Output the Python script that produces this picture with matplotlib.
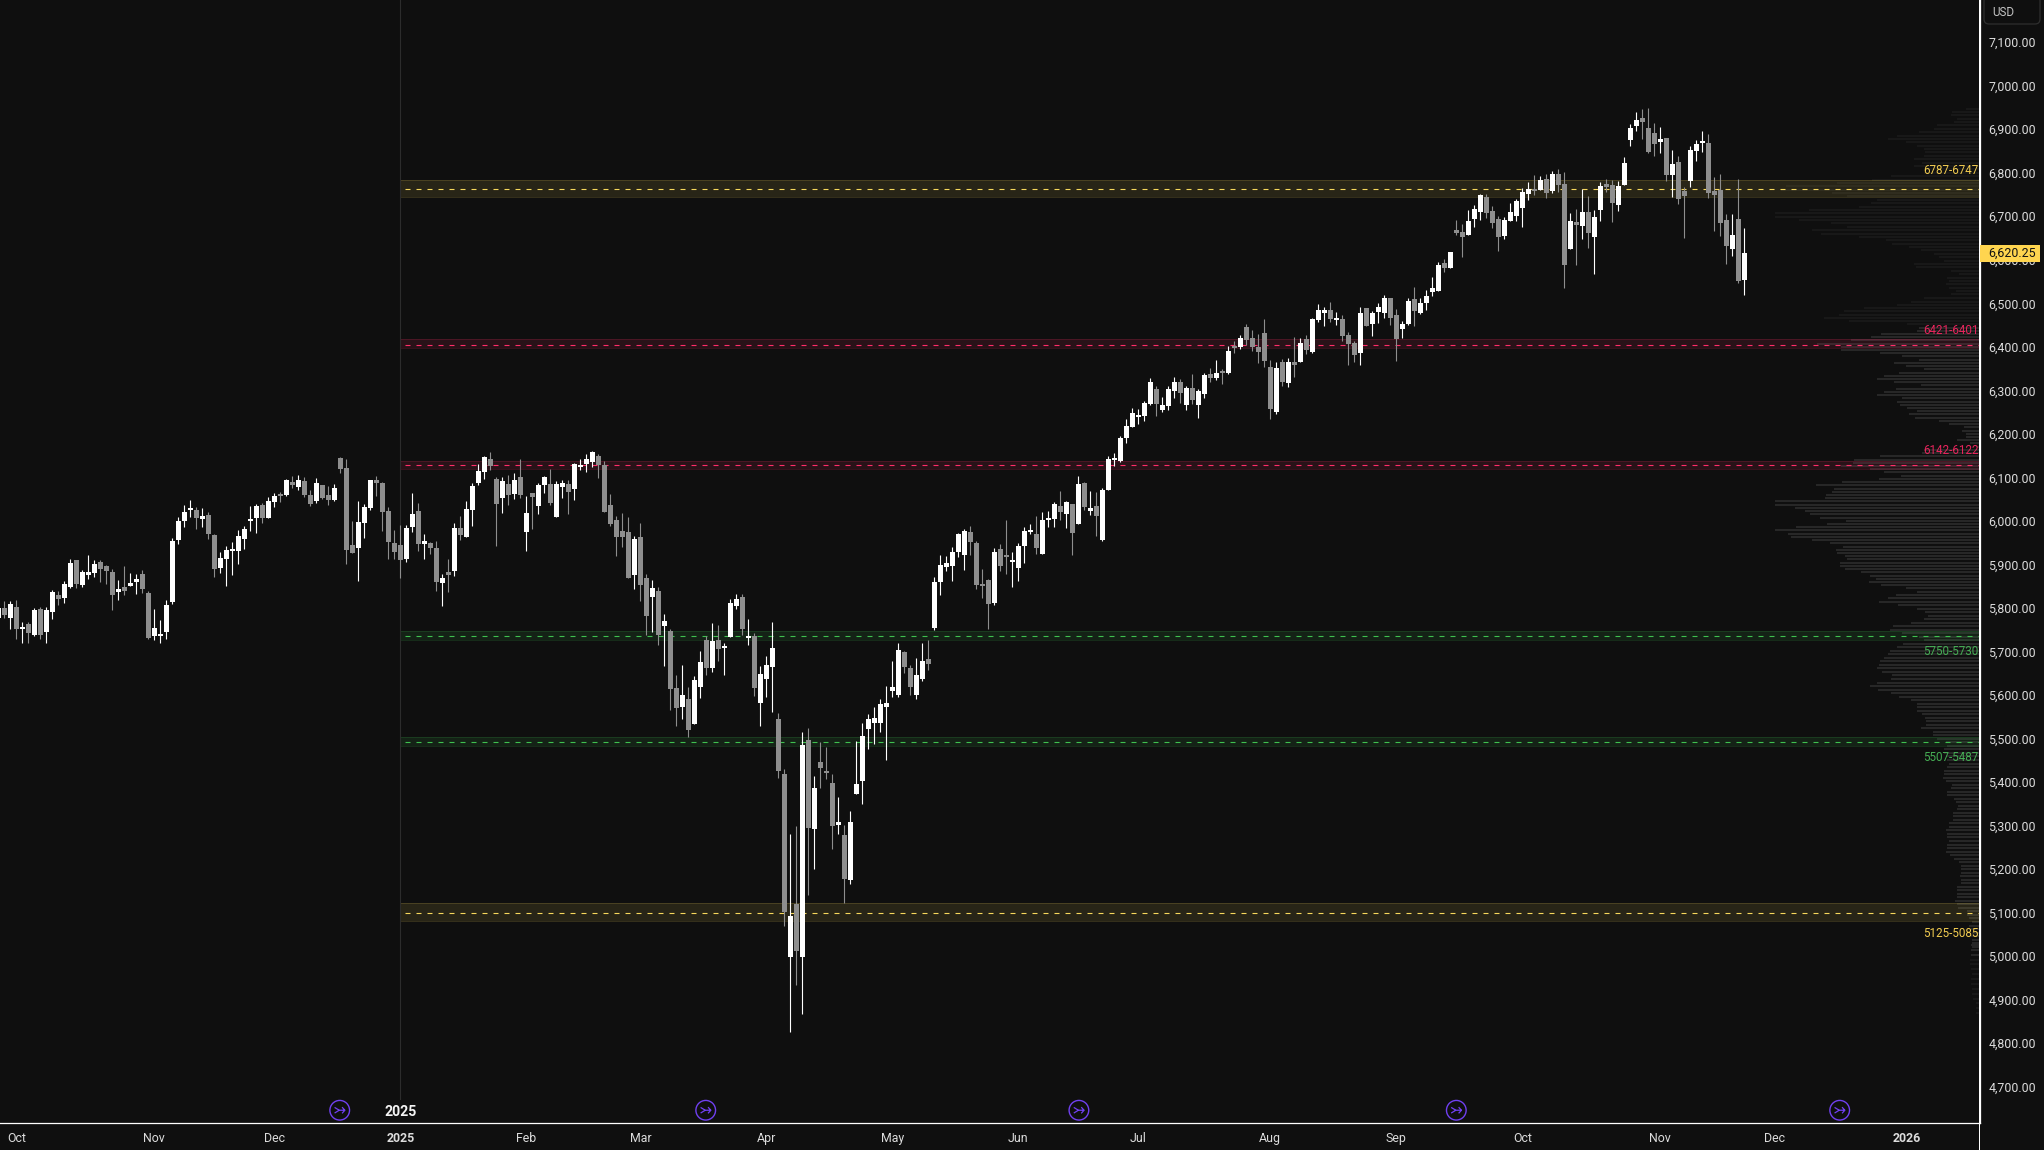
import matplotlib
matplotlib.use("Agg")
import matplotlib.pyplot as plt
import numpy as np
from matplotlib.patches import FancyBboxPatch, Rectangle
from matplotlib.path import Path
from matplotlib.transforms import IdentityTransform

opens = [5780,5803,5780,5806,5755,5766,5741,5801,5748,5794,5833,5826,5852,5914,5856,5879,5884,5909,5900,5886,
         5840,5852,5854,5863,5881,5838,5739,5739,5748,5817,5960,6003,6028,6028,6008,6017,5971,5895,5916,5934,
         5934,5962,6003,6010,6040,6010,6047,6063,6063,6093,6081,6095,6063,6049,6086,6063,6051,6148,6125,5948,
         5941,5999,6033,6097,6090,6026,5953,5948,5916,5989,6026,5950,5953,5941,5861,5886,5888,5987,5966,6028,
         6090,6116,6146,6100,6056,6088,6065,6104,5978,6068,6038,6086,6088,6012,6081,6088,6077,6127,6134,6139,
         6153,6132,6040,6005,5980,5978,5879,5966,5872,5829,5842,5762,5750,5619,5576,5594,5537,5622,5730,5665,
         5730,5711,5737,5808,5829,5734,5739,5585,5640,5668,5548,5422,5001,5123,5001,5500,5295,5449,5429,5401,
         5305,5282,5178,5376,5406,5525,5539,5539,5576,5612,5603,5702,5665,5603,5640,5686,5757,5863,5897,5900,
         5932,5925,5978,5953,5856,5868,5815,5939,5923,5909,5895,5946,5978,5973,5927,6005,6008,6038,6019,6042,
         5996,6090,6026,6038,5960,6074,6143,6141,6194,6219,6242,6244,6272,6306,6258,6267,6302,6323,6270,6309,
         6270,6295,6341,6332,6346,6343,6403,6403,6449,6424,6403,6435,6357,6254,6369,6320,6369,6369,6421,6392,
         6465,6481,6488,6465,6467,6431,6412,6389,6493,6456,6483,6481,6516,6477,6444,6456,6513,6481,6504,6529,
         6532,6596,6585,6672,6667,6660,6697,6713,6748,6716,6697,6658,6693,6704,6722,6755,6764,6764,6789,6761,
         6801,6778,6628,6690,6681,6713,6656,6718,6778,6775,6729,6775,6879,6911,6929,6906,6895,6874,6883,6798,
         6828,6761,6784,6853,6872,6872,6761,6764,6695,6628,6697,6557]
highs = [5803,5819,5819,5822,5771,5771,5803,5806,5806,5845,5842,5865,5916,5914,5891,5925,5914,5914,5902,5893,
         5868,5900,5884,5881,5891,5842,5801,5776,5822,5964,6012,6040,6051,6035,6033,6024,5973,5932,5946,5955,
         5982,5992,6038,6042,6045,6058,6068,6070,6100,6107,6109,6104,6074,6102,6086,6084,6088,6150,6146,6003,
         6049,6042,6097,6107,6093,6035,5982,5994,5994,6068,6045,5973,5955,5957,5881,5916,5999,6015,6049,6090,
         6134,6153,6162,6104,6104,6109,6113,6146,6061,6068,6090,6107,6123,6095,6097,6097,6136,6146,6157,6164,
         6157,6141,6065,6015,6022,6012,5969,5999,5881,5868,5851,5789,5755,5649,5672,5622,5647,5704,5739,5769,
         5764,5723,5824,5835,5835,5778,5746,5670,5693,5771,5562,5433,5284,5302,5518,5527,5417,5495,5484,5422,
         5369,5305,5337,5498,5539,5560,5576,5594,5624,5681,5723,5704,5672,5688,5722,5730,5874,5925,5923,5943,
         5976,5985,5992,5957,5893,5870,5941,5950,6005,5932,5953,5989,5996,6015,6024,6026,6047,6072,6049,6042,
         6107,6093,6072,6070,6079,6153,6159,6199,6238,6263,6261,6279,6332,6313,6288,6313,6334,6329,6313,6341,
         6306,6343,6355,6373,6352,6405,6417,6431,6456,6442,6433,6467,6373,6369,6375,6378,6426,6424,6431,6470,
         6502,6495,6506,6483,6477,6437,6417,6495,6493,6486,6504,6523,6516,6490,6463,6516,6541,6516,6534,6564,
         6598,6605,6621,6695,6686,6718,6729,6755,6755,6727,6704,6702,6734,6743,6768,6782,6798,6796,6801,6807,
         6812,6805,6711,6720,6766,6750,6718,6782,6789,6787,6784,6840,6915,6943,6950,6952,6918,6909,6883,6856,
         6842,6771,6865,6879,6899,6892,6794,6801,6709,6709,6789,6676]
lows = [5780,5780,5755,5732,5723,5723,5739,5732,5723,5778,5810,5815,5849,5849,5852,5870,5874,5863,5858,5799,
        5822,5833,5854,5835,5838,5732,5730,5723,5732,5812,5950,5989,6012,5985,5989,5962,5874,5884,5854,5879,
        5904,5939,5980,5976,5999,6010,6035,6047,6061,6079,6074,6058,6038,6045,6054,6040,6049,6113,5904,5930,
        5865,5964,6028,6061,5980,5916,5916,5872,5909,5978,5934,5916,5927,5842,5808,5840,5877,5960,5966,5992,
        6086,6100,6120,5946,6022,6040,6054,6056,5934,5985,6019,6068,6040,6012,6056,6019,6051,6120,6116,6127,
        6102,6024,5992,5923,5943,5872,5847,5819,5741,5748,5718,5670,5569,5532,5548,5507,5537,5596,5649,5656,
        5681,5649,5737,5801,5741,5718,5601,5532,5599,5564,5413,5072,4829,4937,4870,5144,5203,5390,5410,5249,
        5284,5125,5169,5376,5353,5479,5491,5518,5454,5599,5599,5654,5603,5594,5635,5661,5753,5833,5888,5865,
        5920,5891,5925,5847,5826,5755,5810,5888,5881,5851,5865,5907,5973,5927,5927,5989,5989,6005,5987,5925,
        5996,6028,6017,5969,5957,6074,6130,6139,6182,6219,6226,6233,6270,6244,6254,6258,6286,6274,6258,6272,
        6240,6286,6323,6327,6318,6341,6389,6398,6408,6394,6366,6357,6238,6249,6313,6311,6334,6369,6387,6389,
        6460,6451,6460,6454,6417,6362,6369,6362,6451,6428,6458,6470,6454,6371,6424,6454,6451,6479,6488,6520,
        6532,6575,6585,6660,6610,6660,6679,6695,6700,6677,6624,6651,6693,6693,6679,6741,6752,6764,6745,6757,
        6759,6539,6628,6591,6651,6630,6571,6692,6759,6690,6715,6775,6865,6899,6881,6849,6842,6849,6784,6748,
        6732,6653,6771,6830,6851,6745,6670,6658,6594,6612,6550,6522]
closes = [5803,5787,5812,5755,5757,5746,5799,5741,5799,5840,5824,5858,5907,5858,5886,5886,5904,5893,5888,5833,
          5847,5842,5861,5870,5847,5734,5757,5741,5810,5957,6003,6024,6031,6010,6015,5973,5893,5918,5937,5937,
          5969,5985,6005,6038,6010,6049,6061,6061,6097,6086,6097,6063,6042,6090,6056,6051,6079,6123,5937,5930,
          6001,6035,6097,6090,6024,5955,5932,5914,5987,6019,5950,5957,5941,5863,5872,5879,5987,5971,6031,6084,
          6118,6150,6130,6042,6095,6063,6097,6063,6022,6058,6086,6104,6045,6088,6090,6070,6134,6130,6146,6162,
          6132,6024,5996,5966,5966,5872,5962,5856,5785,5849,5741,5773,5617,5573,5603,5523,5638,5679,5665,5727,
          5709,5716,5815,5824,5755,5737,5619,5652,5672,5711,5429,5105,5095,5015,5488,5298,5390,5436,5424,5302,
          5311,5180,5311,5399,5509,5548,5550,5583,5585,5622,5707,5668,5622,5649,5681,5675,5863,5902,5907,5932,
          5973,5980,5955,5856,5854,5812,5932,5900,5920,5914,5946,5980,5980,5941,6005,6008,6042,6024,6047,5976,
          6088,6035,6033,6015,6074,6146,6146,6194,6222,6251,6247,6274,6323,6272,6270,6306,6323,6297,6309,6281,
          6302,6339,6332,6343,6343,6394,6401,6424,6419,6403,6392,6371,6261,6355,6323,6369,6362,6412,6396,6467,
          6488,6488,6467,6467,6428,6410,6385,6481,6451,6481,6495,6516,6470,6421,6456,6509,6486,6504,6520,6539,
          6592,6585,6621,6665,6656,6693,6720,6752,6711,6688,6656,6695,6713,6738,6759,6766,6761,6787,6757,6801,
          6775,6591,6692,6683,6713,6665,6702,6773,6771,6734,6773,6826,6906,6925,6920,6851,6869,6881,6798,6824,
          6743,6750,6856,6870,6874,6757,6752,6688,6635,6660,6555,6620]

# volume profile, widths in chart px
profile_top = [14,28,29,23,26,43,46,61,83,92,74,63,56,55,56,66,58,66,53,56,89,108,143,194,199,148,133,103,109,121,
               171,205,205,181,149,133,168,159,121,94,88,71,59,46,41,36,66,64,29,21,33,31,34,31,24,29,56]
profile_upper = [69,83,116,136,141,156,131,73,61,63,99,109,129,163,139,139,100,78,61,86,74,56,81,96,103,86,59,84,96,103,
                 78,83,80,73,63,71,65,41,31,16,18,14,14,23,10,3,56,58,100,126,127,139,110,96,79,101,138,164,146,148,
                 154,155,205,205,185,175,170,160,134,153,184,205,192,189,168,150,137,144,143,135,133,140,140,135,119,110,104,111,99,74,
                 63,84,92]
profile_lower = [101,82,63,55,52,56,69,87,90,78,61,56,77,83,90,92,96,100,101,103,98,88,89,103,110,102,89,81,69,63,
                 63,63,58,55,54,54,59,47,47,43,34,33,36,36,34,33,31,33,36,36,37,34,28,29,33,33,26,24,22,23,
                 27,27,27,31,31,34,33,33,31,33,33,34,30,26,21,19,19,19,20,19,19,23,23,23,23,25,23,22,13,13,
                 11,8,11,9,8,9,8,8,8]
profile_tail = [9,9,9,10,10,9,8,9,9,8,8,7,4,4,4]

band_lo = [6747,6401,6122,5730,5487,5085]
band_hi = [6787,6421,6142,5750,5507,5125]
band_mid = [6765,6408,6131,5738,5495,5102]
band_names = ["6787-6747","6421-6401","6142-6122","5750-5730","5507-5487","5125-5085"]
band_text_y = [6808,6442,6164,5704,5460,5055]
band_colors = ["#f7d85c","#ff2d68","#ff2d68","#3fc04f","#3fc04f","#f7d85c"]
label_colors = ["#f2cc50","#e8245c","#e8245c","#45ad54","#45ad54","#f2cc50"]

price_ticks = list(range(4700, 7200, 100))
month_pos = [3,26,46,67,88,107,128,149,170,190,212,233,254,277,296,318]
month_names = ["Oct","Nov","Dec","2025","Feb","Mar","Apr","May","Jun","Jul","Aug","Sep","Oct","Nov","Dec","2026"]
event_pos = [56.9,117.9,180.1,243,306.9]
last_price = 6620.25

BG = "#0f0f0f"
UP = "#ffffff"
DOWN = "#8e8e8e"
plt.rcParams["font.family"] = ["Roboto", "DejaVu Sans"]
plt.rcParams["lines.scale_dashes"] = False

fig = plt.figure(figsize=(20.44, 11.5), dpi=100, facecolor=BG)
ax = fig.add_axes([0, (1150 - 1123.3) / 1150, 1979.5 / 2044, 1123.3 / 1150], facecolor=BG)
x_left, x_right = 0.278, 330.2
ax.set_xlim(x_left, x_right)
ax.set_ylim(4619, 7200.4)
px_x = 1 / 6

# profile behind everything
segments = [(profile_top, 6951, 6516), (profile_upper, 6507, 5826), (profile_lower, 5818, 5025), (profile_tail, 5029, 4872)]
for vals, p0, p1 in segments:
    levels = np.linspace(p0, p1, len(vals))
    widths = np.array(vals) * px_x
    cols = ["#181818" if (p > 6450 or p < 5000) else "#272727" for p in levels]
    ax.barh(levels, widths, left=x_right - widths, height=4.6, color=cols, linewidth=0, zorder=1)

# levels
for lo, hi, mid, name, ty, c, lc in zip(band_lo, band_hi, band_mid, band_names, band_text_y, band_colors, label_colors):
    ax.fill_between([67, x_right], lo, hi, color=c, alpha=0.11, linewidth=0, zorder=2)
    ax.plot([67, x_right], [lo, lo], color=c, alpha=0.16, lw=0.72, zorder=2)
    ax.plot([67, x_right], [hi, hi], color=c, alpha=0.16, lw=0.72, zorder=2)
    ax.plot([67.7, x_right], [mid, mid], color=c, lw=0.8, dashes=(3.6, 4.32), zorder=3)
    ax.text(x_right - 0.15, ty, name, color=lc, fontsize=8.4, ha="right", va="center", zorder=6)

ax.plot([67, 67], [4675, 7200.4], color="#2c2c2c", lw=0.8, zorder=2)

# candles
idx = np.arange(len(opens))
o = np.array(opens)
c = np.array(closes)
colors = [UP if b >= a else DOWN for a, b in zip(opens, closes)]
ax.vlines(idx, lows, highs, colors=colors, lw=0.8, zorder=4)
ax.bar(idx, np.abs(c - o).clip(min=4), bottom=np.minimum(o, c), width=0.8, color=colors, linewidth=0, zorder=5)

# event markers
arrow = Path([(-1, 0.55), (-0.1, 0), (-1, -0.55), (-0.1, 0), (-0.1, 0), (1, 0), (0.45, 0.6), (1, 0), (0.45, -0.6)],
             [Path.MOVETO, Path.LINETO, Path.MOVETO, Path.LINETO, Path.MOVETO, Path.LINETO, Path.MOVETO, Path.LINETO, Path.LINETO])
ev_y = [4649] * len(event_pos)
ax.scatter(event_pos, ev_y, s=200, facecolors="none", edgecolors="#7040f0", linewidths=1.0, zorder=6, clip_on=False)
ax.scatter(event_pos, ev_y, s=55, marker=arrow, facecolors="none", edgecolors="#7040f0", linewidths=0.9, zorder=6, clip_on=False)
ax.text(67, 4646, "2025", color="#f4f4f4", fontsize=10.2, fontweight="bold", ha="center", va="center", zorder=6)

# axes
for s in ["top", "left"]:
    ax.spines[s].set_visible(False)
for s in ["right", "bottom"]:
    ax.spines[s].set_color("#ffffff")
    ax.spines[s].set_linewidth(0.9)
ax.yaxis.tick_right()
ax.set_yticks(price_ticks)
ax.set_yticklabels([f"{p:,.2f}" for p in price_ticks], color="#dcdcdc", fontsize=8.9)
for lab in ax.get_yticklabels():
    lab.set_va("center")
ax.set_xticks(month_pos)
ax.set_xticklabels(month_names, color="#dcdcdc", fontsize=8.9)
for lab in ax.get_xticklabels():
    lab.set_va("center")
    if lab.get_text() in ("2025", "2026"):
        lab.set_fontweight("bold")
ax.tick_params(axis="both", length=0)
ax.tick_params(axis="y", pad=6.5)
ax.tick_params(axis="x", pad=11)

# right side extras, in figure pixels
ident = IdentityTransform()
fig.add_artist(Rectangle((1979, 0), 1, 1150, transform=ident, facecolor="#ffffff", linewidth=0, zorder=4))
fig.add_artist(Rectangle((1980, 1150 - 262), 60, 17, transform=ident, facecolor="#ffd54f", linewidth=0, zorder=5))
fig.text(1988 / 2044, 1 - 253.5 / 1150, f"{last_price:,.2f}", color="#131313", fontsize=8.9, va="center", ha="left", zorder=6)
fig.add_artist(FancyBboxPatch((1984, 1150 - 24), 56, 28, boxstyle="round,pad=0,rounding_size=5", transform=ident,
                              facecolor=BG, edgecolor="#2e2e2e", linewidth=0.9, zorder=5, clip_on=True))
fig.text(1992 / 2044, 1 - 12.5 / 1150, "USD", color="#c4c4c4", fontsize=8.4, va="center", ha="left", zorder=6)

fig.savefig("out.png", dpi=100, facecolor=BG)
